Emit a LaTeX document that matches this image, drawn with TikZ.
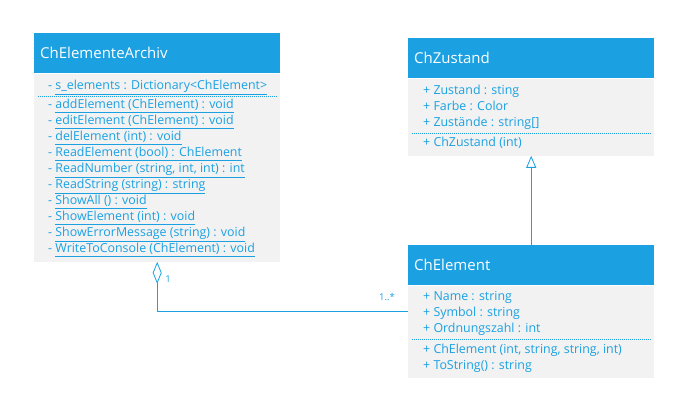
\documentclass[tikz,border=0pt]{standalone}
\usepackage{fontspec}
\setmainfont{Open Sans}
\usetikzlibrary{arrows.meta}
\definecolor{umlblue}{RGB}{27,161,226}
\definecolor{umlgrey}{RGB}{242,242,242}
\tikzset{
    head/.style   = { rectangle, fill=umlblue, text=white, anchor=north west,
	minimum width=246pt, minimum height=40pt, text width=234pt,
	inner xsep=6pt, inner ysep=0pt, align=left, font=\fontsize{15}{17}\selectfont },
	body/.style   = { rectangle, fill=umlgrey, anchor=north, minimum width=246pt, inner sep=0pt },
	member/.style = { anchor=west, inner sep=0pt, text=umlblue,
	font=\fontsize{12.4}{14}\selectfont, text height=1.5ex, text depth=.25ex },
	sep/.style    = { draw=umlblue, line width=0.6pt, dash pattern=on 1pt off 1pt },
	link/.style   = { draw=umlblue, line width=0.8pt },
	mult/.style   = { text=umlblue, inner sep=0pt, font=\fontsize{9.5}{11}\selectfont },
}

\begin{document}
\begin{tikzpicture}[x=1pt,y=-1pt]
	\useasboundingbox (0,0) rectangle (697,419);
	% ChElementeArchiv
	\node (archivHead) [head] at (34,33) {ChElementeArchiv};
	\node (archivBody) [body, minimum height=188pt] at (archivHead.south) {};
	\node (archivAttr) [member] at (48,86) {- \underline{s\_elements : Dictionary<ChElement>}};
	\draw[sep] ([shift={(4,23)}]archivBody.north west) -- ([shift={(-4,23)}]archivBody.north east);
	\foreach \txt [count=\i from 0] in {{addElement (ChElement) : void}, {editElement (ChElement) : void},
		{delElement (int) : void}, {ReadElement (bool) : ChElement}, {ReadNumber (string, int, int) : int},
		{ReadString (string) : string}, {ShowAll () : void}, {ShowElement (int) : void},
		{ShowErrorMessage (string) : void}, {WriteToConsole (ChElement) : void}}
		\node (archivOp\i) [member] at (48,105+16*\i) {- \underline{\txt}};
	% ChZustand
	\node (zustandHead) [head] at (408,38) {ChZustand};
	\node (zustandBody) [body, minimum height=77pt] at (zustandHead.south) {};
	\foreach \txt [count=\i from 0] in {{Zustand : sting}, {Farbe : Color}, {Zustände : string[]}}
		\node (zustandAttr\i) [member] at (423,91+16*\i) {+ \txt};
	\draw[sep] ([shift={(4,55)}]zustandBody.north west) -- ([shift={(-4,55)}]zustandBody.north east);
	\node (zustandOp) [member] at (423,143) {+ ChZustand (int)};
	% ChElement
	\node (elementHead) [head] at (408,245) {ChElement};
	\node (elementBody) [body, minimum height=92pt] at (elementHead.south) {};
	\foreach \txt [count=\i from 0] in {{Name : string}, {Symbol : string}, {Ordnungszahl : int}}
		\node (elementAttr\i) [member] at (423,297+16*\i) {+ \txt};
	\draw[sep] ([shift={(4,54)}]elementBody.north west) -- ([shift={(-4,54)}]elementBody.north east);
	\foreach \txt [count=\i from 0] in {{ChElement (int, string, string, int)}, {ToString() : string}}
		\node (elementOp\i) [member] at (423,350+16*\i) {+ \txt};
	% Beziehungen
	\draw[link, -{Triangle[open, length=12pt, width=10pt, fill=white]}] (elementHead.north) -- (zustandBody.south);
	\draw[link, {Diamond[open, length=22pt, width=9pt, fill=white]}-] (archivBody.south) |- ([yshift=20pt]elementBody.west);
	\node (multOne) [mult] at (168,279) {1};
	\node (multMany) [mult] at (387,297) {1..*};
\end{tikzpicture}
\end{document}
